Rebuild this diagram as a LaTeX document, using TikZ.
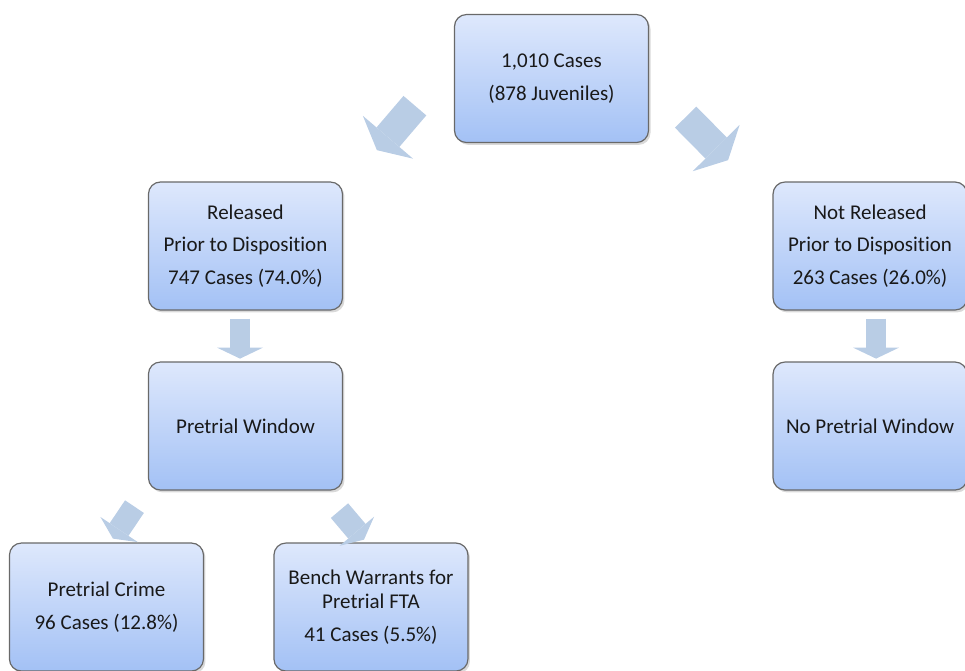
\documentclass[tikz,border=0pt]{standalone}
\usepackage{fontspec}
\setmainfont{Carlito}[Ligatures=NoCommon]
\usepackage{tikz}
\usetikzlibrary{positioning,shadows,arrows.meta,calc}

\definecolor{boxtop}{RGB}{222,232,252}
\definecolor{boxbot}{RGB}{163,193,245}
\definecolor{boxline}{RGB}{105,105,105}
\definecolor{flowblue}{RGB}{185,205,229}

\begin{document}
\begin{tikzpicture}[on grid,
    box/.style={draw=boxline, line width=0.9pt, rounded corners=9pt,
      top color=boxtop, bottom color=boxbot,
      minimum width=145.5pt, minimum height=96pt, inner xsep=1pt,
      align=center, text=black!90, font=\fontsize{15.75}{18}\selectfont,
      drop shadow={opacity=0.3, shadow xshift=1.5pt, shadow yshift=-1.8pt}},
    bigflow/.style={color=flowblue, line width=22.5pt,
      -{Triangle[length=12.75pt, width=49.5pt, line width=0pt]}},
    midflow/.style={color=flowblue, line width=17pt,
      -{Triangle[length=8.25pt, width=33.75pt, line width=0pt]}},
    smallflow/.style={color=flowblue, line width=15pt,
      -{Triangle[length=8.25pt, width=34.5pt, line width=0pt]}}]
   \useasboundingbox (-413.6pt,58.9pt) rectangle (310.1pt,-443.6pt);

   \node[box] (all) {1,010 Cases\\[6.5pt](878 Juveniles)};
   \node[box] (rel) [below left=125.6pt and 229.5pt of all]
      {Released\\[6.5pt]Prior to Disposition\\[6.5pt]747 Cases (74.0\%)};
   \node[box] (notrel) [below right=125.6pt and 238.9pt of all]
      {Not Released\\[6.5pt]Prior to Disposition\\[6.5pt]263 Cases (26.0\%)};
   \node[box] (win) [below=135pt of rel] {Pretrial Window};
   \node[box] (nowin) [below=135pt of notrel] {No Pretrial Window};
   \node[box] (crime) [below left=135.75pt and 104.25pt of win]
      {Pretrial Crime\\[6.5pt]96 Cases (12.8\%)};
   \node[box] (fta) [below right=135.75pt and 94.1pt of win]
      {Bench Warrants for\\Pretrial FTA\\[6.5pt]41 Cases (5.5\%)};

   % block arrows
   \draw[bigflow] ($(all.south west)+(-29.25pt,28.1pt)$) -- ($(all.south west)+(-57.75pt,-5.25pt)$);
   \draw[bigflow] ($(all.south east)+(27.4pt,19.5pt)$) -- ($(all.south east)+(59.25pt,-12.75pt)$);
   \draw[smallflow] ($(rel.south)+(-4.1pt,-6pt)$) -- ($(rel.south)+(-4.1pt,-36pt)$);
   \draw[smallflow] ($(notrel.south)+(4.5pt,-6pt)$) -- ($(notrel.south)+(4.5pt,-36pt)$);
   \draw[midflow] ($(win.south)+(-83.25pt,-12pt)$) -- ($(win.south)+(-99.4pt,-36pt)$);
   \draw[midflow] ($(win.south)+(70.5pt,-15pt)$) -- ($(win.south)+(88.9pt,-36.75pt)$);
\end{tikzpicture}
\end{document}
